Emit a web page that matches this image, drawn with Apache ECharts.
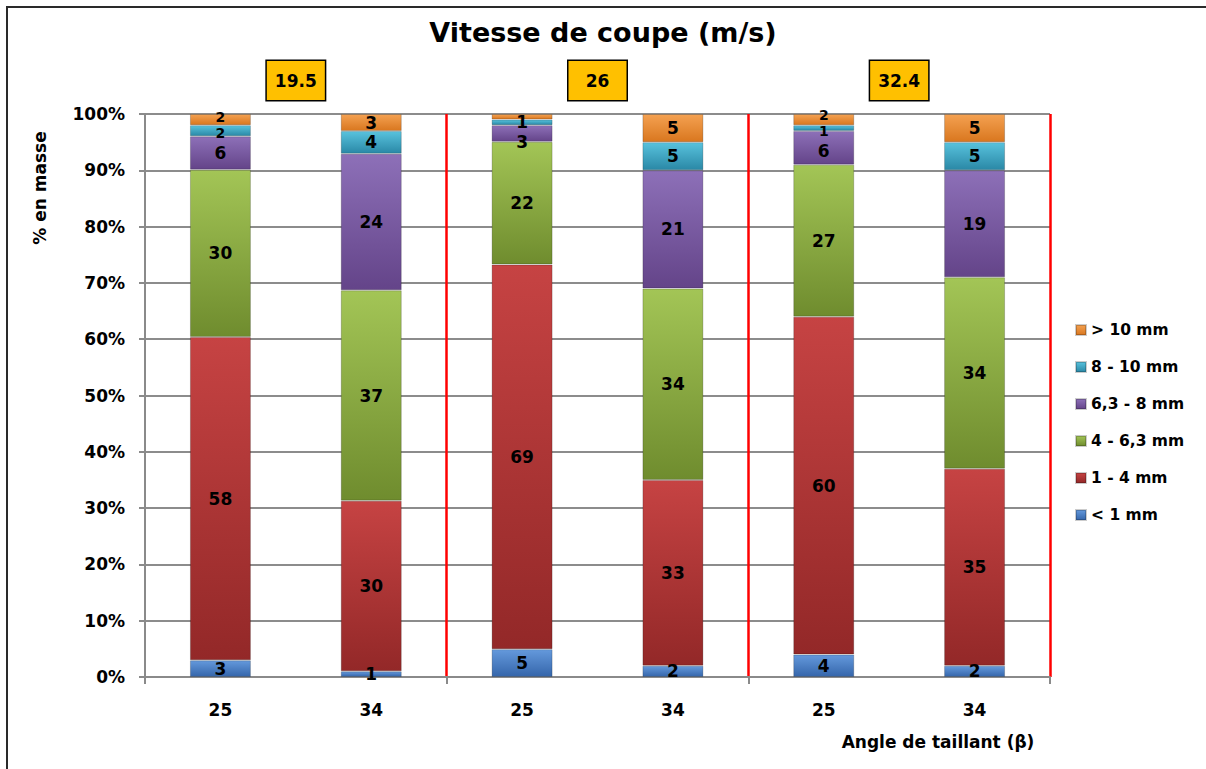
<!DOCTYPE html>
<html>
<head>
<meta charset="utf-8">
<title>Vitesse de coupe (m/s)</title>
<script src="https://cdn.jsdelivr.net/npm/echarts@6/dist/echarts.min.js"></script>
<style>
  html, body { margin: 0; padding: 0; background: #ffffff; }
  #wrap { position: relative; width: 1206px; height: 769px; overflow: hidden; }
  #chart { position: absolute; left: 0; top: 0; width: 1206px; height: 769px; }
  #frame { position: absolute; left: 6px; top: 6px; width: 1220px; height: 780px;
           border-left: 2px solid #2a2a2a; border-top: 2px solid #2a2a2a; pointer-events: none; }
</style>
</head>
<body>
<div id="wrap">
  <div id="chart"></div>
  <div id="frame"></div>
</div>
<script>
// Cutting angle (x categories) and cutting speed groups
const angles = ['25', '34', '25', '34', '25', '34'];
const speeds = ['19.5', '26', '32.4'];

// Size classes, bottom of the stack first
const sizeClasses = ['< 1 mm', '1 - 4 mm', '4 - 6,3 mm', '6,3 - 8 mm', '8 - 10 mm', '> 10 mm'];

// Mass fraction (%) of each size class, one value per bar
const below1 = [3, 1, 5, 2, 4, 2];
const from1to4 = [58, 30, 69, 33, 60, 35];
const from4to63 = [30, 37, 22, 34, 27, 34];
const from63to8 = [6, 24, 3, 21, 6, 19];
const from8to10 = [2, 4, 1, 5, 1, 5];
const above10 = [2, 3, 1, 5, 2, 5];
// segments whose value is not printed on the bar
const above10Unlabelled = [false, false, true, false, false, false];

const classValues = [below1, from1to4, from4to63, from63to8, from8to10, above10];

// Gradient stops (top, bottom) for each class
const classColors = [
  ['#6499dc', '#3566ab'],
  ['#c64343', '#932828'],
  ['#a3c556', '#6f8c2e'],
  ['#8d70b8', '#644489'],
  ['#58c2dd', '#2a88a6'],
  ['#f4a151', '#d9771f']
];

// label tweaks for thin segments at the top of the stacks: [class, bar, dy, fontSize]
const labelNudges = [
  [5, 0, -3, 14], [4, 0, 2, 14],
  [5, 4, -5, 14], [4, 4, 3, 14], [3, 4, 3, 17],
  [3, 2, 8, 17]
];

const FONT = 'DejaVu Sans';

// each bar is shown as a 100 % stack of its classes
const totals = angles.map((_, i) => classValues.reduce((s, arr) => s + arr[i], 0));

const series = classValues.map((arr, k) => ({
  name: sizeClasses[k],
  type: 'bar',
  stack: 'total',
  xAxisIndex: 0,
  yAxisIndex: 0,
  barWidth: 61,
  itemStyle: {
    color: new echarts.graphic.LinearGradient(0, 0, 0, 1, [
      { offset: 0, color: classColors[k][0] },
      { offset: 1, color: classColors[k][1] }
    ]),
    borderColor: 'rgba(0,0,0,0.2)',
    borderWidth: 1
  },
  label: {
    show: true,
    position: 'inside',
    color: '#000000',
    fontFamily: FONT,
    fontWeight: 'bold',
    fontSize: 17,
    formatter: p => String(p.data.raw)
  },
  data: arr.map((v, i) => {
    const item = { value: v / totals[i] * 100, raw: v };
    if (k === 5 && above10Unlabelled[i]) item.label = { show: false };
    labelNudges.forEach(([c, b, dy, fs]) => {
      if (c === k && b === i) item.label = { offset: [0, dy], fontSize: fs };
    });
    return item;
  })
}));

const chart = echarts.init(document.getElementById('chart'), null, { renderer: 'svg' });

chart.setOption({
  animation: false,
  backgroundColor: '#ffffff',
  title: {
    text: 'Vitesse de coupe (m/s)',
    left: 'center',
    top: 14,
    textStyle: { fontFamily: FONT, fontWeight: 'bold', fontSize: 27, color: '#000000' }
  },
  legend: {
    orient: 'vertical',
    left: 1070,
    top: 317,
    itemWidth: 10,
    itemHeight: 10,
    itemGap: 21,
    icon: 'rect',
    data: sizeClasses.slice().reverse(),
    textStyle: { fontFamily: FONT, fontWeight: 'bold', fontSize: 15.5, color: '#000000' }
  },
  grid: { left: 145, right: 156, top: 114, bottom: 92, containLabel: false },
  xAxis: [
    {
      type: 'category',
      data: angles,
      position: 'bottom',
      boundaryGap: true,
      axisLine: { show: true, lineStyle: { color: '#8a8a8a', width: 2 } },
      axisTick: { show: true, interval: 1, length: 7, lineStyle: { color: '#8a8a8a', width: 2 } },
      axisLabel: { margin: 24, color: '#000000', fontFamily: FONT, fontWeight: 'bold', fontSize: 17 },
      splitLine: { show: false }
    },
    {
      type: 'category',
      data: speeds,
      position: 'top',
      boundaryGap: true,
      axisLine: { show: false },
      axisTick: { show: false },
      splitLine: { show: false },
      axisLabel: {
        margin: 14,
        color: '#000000',
        fontFamily: FONT,
        fontWeight: 'bold',
        fontSize: 17,
        width: 36,
        align: 'center',
        lineHeight: 19,
        backgroundColor: '#ffc000',
        borderColor: '#000000',
        borderWidth: 1.5,
        padding: [10, 11]
      }
    },
    {
      // group separators
      type: 'value',
      min: 0,
      max: 3,
      interval: 1,
      position: 'bottom',
      axisLine: { show: false },
      axisTick: { show: false },
      axisLabel: { show: false },
      splitLine: { show: true, showMinLine: false, lineStyle: { color: '#ff0000', width: 2.5 } }
    }
  ],
  yAxis: {
    type: 'value',
    min: 0,
    max: 100,
    interval: 10,
    axisLine: { show: true, lineStyle: { color: '#8a8a8a', width: 2 } },
    axisTick: { show: true, length: 6, lineStyle: { color: '#8a8a8a', width: 2 } },
    axisLabel: {
      margin: 20,
      color: '#000000',
      fontFamily: FONT,
      fontWeight: 'bold',
      fontSize: 17,
      formatter: '{value}%'
    },
    splitLine: { show: true, lineStyle: { color: '#8c8c8c', width: 2 } }
  },
  graphic: [
    {
      type: 'text',
      x: 40,
      y: 188,
      rotation: Math.PI / 2,
      style: {
        text: '% en masse',
        fontFamily: FONT,
        fontWeight: 'bold',
        fontSize: 17,
        fill: '#000000',
        textAlign: 'center',
        textVerticalAlign: 'middle'
      }
    },
    {
      type: 'text',
      x: 938,
      y: 742,
      style: {
        text: 'Angle de taillant (β)',
        fontFamily: FONT,
        fontWeight: 'bold',
        fontSize: 17,
        fill: '#000000',
        textAlign: 'center',
        textVerticalAlign: 'middle'
      }
    }
  ],
  series: series
});
</script>
</body>
</html>
